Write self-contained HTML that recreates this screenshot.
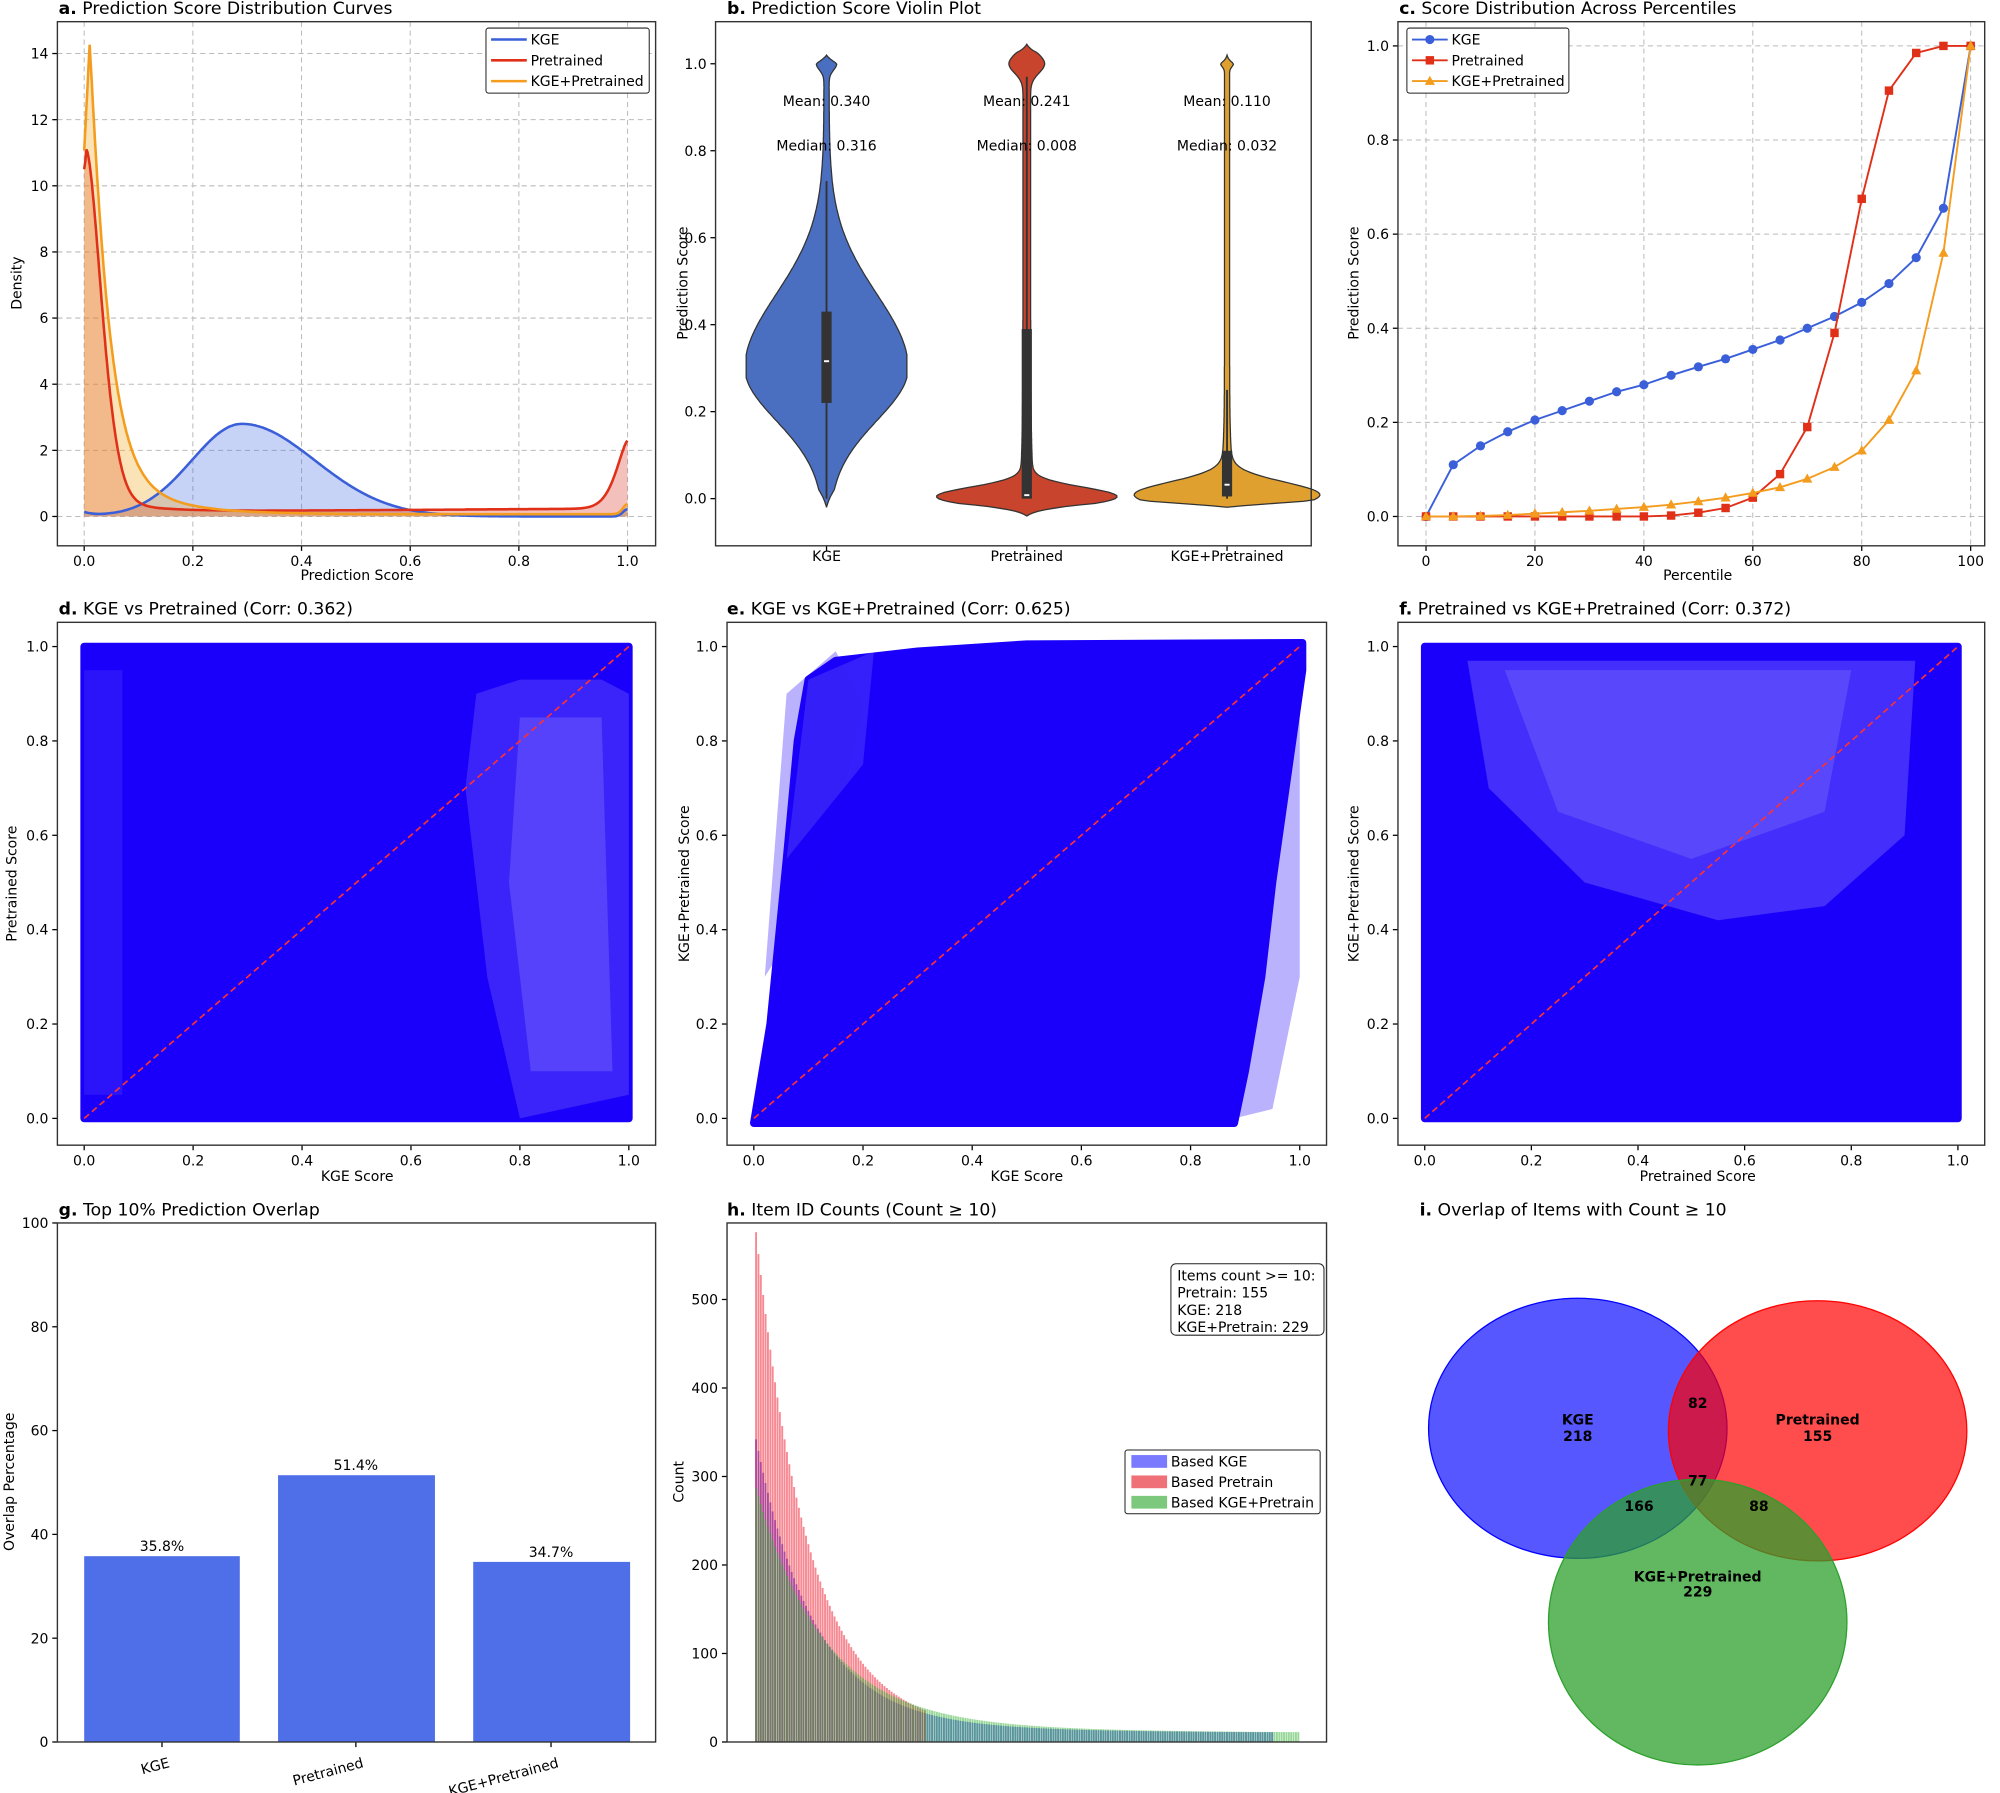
<!DOCTYPE html>
<html><head><meta charset="utf-8"><style>
html,body{margin:0;padding:0;background:#fff}
svg{display:block}
text{font-family:"DejaVu Sans","Liberation Sans",sans-serif;fill:#000}
</style></head><body>
<svg id="s" width="2000" height="1793" viewBox="0 0 1568 1406" preserveAspectRatio="none" xmlns="http://www.w3.org/2000/svg">
<rect width="1568" height="1406" fill="#fff"/>
<g font-size="13.5">
<text x="46" y="11"><tspan font-weight="bold">a.</tspan> Prediction Score Distribution Curves</text>
<text x="570" y="11"><tspan font-weight="bold">b.</tspan> Prediction Score Violin Plot</text>
<text x="1097" y="11"><tspan font-weight="bold">c.</tspan> Score Distribution Across Percentiles</text>
<text x="46" y="482"><tspan font-weight="bold">d.</tspan> KGE vs Pretrained (Corr: 0.362)</text>
<text x="570" y="482"><tspan font-weight="bold">e.</tspan> KGE vs KGE+Pretrained (Corr: 0.625)</text>
<text x="1097" y="482"><tspan font-weight="bold">f.</tspan> Pretrained vs KGE+Pretrained (Corr: 0.372)</text>
<text x="46" y="953"><tspan font-weight="bold">g.</tspan> Top 10% Prediction Overlap</text>
<text x="570" y="953"><tspan font-weight="bold">h.</tspan> Item ID Counts (Count ≥ 10)</text>
<text x="1113" y="953"><tspan font-weight="bold">i.</tspan> Overlap of Items with Count ≥ 10</text>
</g>
<g font-size="11" text-anchor="middle">
<text x="280" y="455">Prediction Score</text>
<text transform="translate(17,222) rotate(-90)">Density</text>
<text transform="translate(539,222) rotate(-90)">Prediction Score</text>
<text x="1331" y="455">Percentile</text>
<text transform="translate(1065,222) rotate(-90)">Prediction Score</text>
<text x="280" y="926">KGE Score</text>
<text transform="translate(13,693) rotate(-90)">Pretrained Score</text>
<text x="805" y="926">KGE Score</text>
<text transform="translate(540,693) rotate(-90)">KGE+Pretrained Score</text>
<text x="1331" y="926">Pretrained Score</text>
<text transform="translate(1065,693) rotate(-90)">KGE+Pretrained Score</text>
<text transform="translate(11,1162) rotate(-90)">Overlap Percentage</text>
<text transform="translate(536,1162) rotate(-90)">Count</text>
<text x="648" y="440">KGE</text><text x="805" y="440">Pretrained</text><text x="962" y="440">KGE+Pretrained</text>
</g>
<g id="dyn"></g>
<g font-size="11" font-weight="bold" text-anchor="middle" id="venn">
<ellipse cx="1237" cy="1120" rx="117" ry="102" fill="#0000ff" fill-opacity="0.66" stroke="#0000ff"/>
<ellipse cx="1425" cy="1122" rx="117" ry="102" fill="#ff0000" fill-opacity="0.7" stroke="#ff0000"/>
<ellipse cx="1331" cy="1272" rx="117" ry="112" fill="#2ca02c" fill-opacity="0.75" stroke="#2ca02c"/>
</g>
</svg>
<script>
const NS="http://www.w3.org/2000/svg",D=document.getElementById('dyn');
function el(t,a,p){const e=document.createElementNS(NS,t);for(const k in a)e.setAttribute(k,a[k]);(p||D).appendChild(e);return e}
function tx(x,y,s,a){const e=el('text',Object.assign({x:x,y:y,'font-size':11},a||{}));e.textContent=s;return e}
function frame(x1,y1,x2,y2){el('rect',{x:x1,y:y1,width:x2-x1,height:y2-y1,fill:'none',stroke:'#333','stroke-width':1.1})}
function xt(x,y,s,grid,gy){el('line',{x1:x,x2:x,y1:y,y2:y+4,stroke:'#000'});tx(x,y+16,s,{'text-anchor':'middle'});if(grid)el('line',{x1:x,x2:x,y1:gy,y2:y,stroke:'#bbb','stroke-dasharray':'4,3','stroke-width':0.8})}
function yt(x,y,s,grid,gx){el('line',{x1:x-4,x2:x,y1:y,y2:y,stroke:'#000'});tx(x-7,y+4,s,{'text-anchor':'end'});if(grid)el('line',{x1:x,x2:gx,y1:y,y2:y,stroke:'#bbb','stroke-dasharray':'4,3','stroke-width':0.8})}
const f1=v=>v.toFixed(1);
// ---------- a ----------
{const X=s=>66+s*426,Y=d=>405-d*25.93;
for(let i=0;i<=5;i++)xt(X(i*.2),428,f1(i*.2),1,17);
for(let i=0;i<=7;i++)yt(45,Y(i*2),String(i*2),1,514);
const kge=s=>{let v=2.8*Math.exp(-Math.pow((s-0.29)/(s<0.29?0.13:0.19),2));v+=0.12*Math.exp(-s/0.02);v+=0.22*Math.exp(-Math.pow((1-s)/0.012,2));return v};
const pre=s=>{let v=10.3*Math.exp(-Math.pow(Math.max(s-0.004,0)/0.04,1.7))+0.7*Math.exp(-s/0.07)+0.14+0.1*s+2.05*Math.exp(-Math.pow((1-s)/0.03,1.5));if(s<0.004)v=10.5+0.5*s/0.004;return v};
const kp=s=>{let v;if(s<0.01)v=11+3.2*(s/0.01);else v=12.2*Math.exp(-Math.pow((s-0.01)/0.035,1.1))+2*Math.exp(-(s-0.01)/0.09);v+=0.07+0.3*Math.exp(-Math.pow((1-s)/0.012,2));return v};
function curve(f,fill,op){let p=[];for(let i=0;i<=500;i++){const s=i/500;p.push(X(s).toFixed(1)+','+Y(f(s)).toFixed(1))}
el('polygon',{points:X(0)+','+Y(0)+' '+p.join(' ')+' '+X(1)+','+Y(0),fill:fill,'fill-opacity':op});return p}
const pk=curve(kge,'#4169e1',0.3),pp=curve(pre,'#d62d20',0.3),pkp=curve(kp,'#f0b030',0.35);
el('polyline',{points:pk.join(' '),fill:'none',stroke:'#3a5fd9','stroke-width':2});
el('polyline',{points:pp.join(' '),fill:'none',stroke:'#e03018','stroke-width':2});
el('polyline',{points:pkp.join(' '),fill:'none',stroke:'#f39c1e','stroke-width':2});
frame(45,17,514,428);
el('rect',{x:381,y:22,width:128,height:51,fill:'#fff',stroke:'#222','stroke-width':0.8,rx:2});
[['KGE','#3a5fd9'],['Pretrained','#e03018'],['KGE+Pretrained','#f39c1e']].forEach((c,i)=>{const y=31+i*16.3;el('line',{x1:385,x2:413,y1:y,y2:y,stroke:c[1],'stroke-width':2});tx(416,y+4,c[0])});}
// ---------- b ----------
{const Y=v=>391-v*341;
for(let i=0;i<=5;i++)yt(561,Y(i*.2),f1(i*.2));
[648,805,962].forEach(x=>el('line',{x1:x,x2:x,y1:428,y2:432,stroke:'#000'}));
function violin(cx,w,col,lo,hi){let L=[],R=[];for(let i=0;i<=300;i++){const v=lo+(hi-lo)*i/300,h=w(v);L.push((cx-h).toFixed(1)+','+Y(v).toFixed(1));R.unshift((cx+h).toFixed(1)+','+Y(v).toFixed(1))}
el('polygon',{points:L.concat(R).join(' '),fill:col,stroke:'#333','stroke-width':1})}
violin(648,v=>{let h=62*Math.exp(-Math.pow((v-0.3)/(v<0.3?0.17:0.24),2));h+=6*Math.exp(-Math.pow((v-1)/0.02,2))+2;h*=Math.min(1,Math.max(0,(v+0.02)/0.04))*Math.min(1,Math.max(0,(1.02-v)/0.02));return Math.min(h,63)},'#4a6fc0',-0.02,1.02);
violin(805,v=>{let h=65*Math.exp(-Math.pow((v-0.005)/0.03,2))+3+3*Math.exp(-v/0.1);h+=11*Math.exp(-Math.pow((v-1.0)/0.03,2));return h*Math.min(1,Math.max(0,(v+0.04)/0.03))*Math.min(1,Math.max(0,(1.045-v)/0.02))},'#c8442c',-0.04,1.045);
violin(962,v=>{let h=64*Math.exp(-Math.pow((v-0.01)/0.04,2))+2+8*Math.exp(-v/0.06);h+=3*Math.exp(-Math.pow((v-1)/0.01,2));return h*Math.min(1,Math.max(0,(v+0.02)/0.015))*Math.min(1,Math.max(0,(1.02-v)/0.02))},'#e0a030',-0.02,1.02);
[[648,0.73,0.43,0.22,0.316],[805,0.97,0.39,0,0.008],[962,0.25,0.11,0.005,0.032]].forEach(a=>{el('line',{x1:a[0],x2:a[0],y1:Y(0),y2:Y(a[1]),stroke:'#333','stroke-width':1.5});el('rect',{x:a[0]-4,y:Y(a[2]),width:8,height:Y(a[3])-Y(a[2]),fill:'#333'});el('line',{x1:a[0]-2,x2:a[0]+2,y1:Y(a[4]),y2:Y(a[4]),stroke:'#fff','stroke-width':1.5})});
[[648,'0.340','0.316'],[805,'0.241','0.008'],[962,'0.110','0.032']].forEach(a=>{tx(a[0],83,'Mean: '+a[1],{'text-anchor':'middle'});tx(a[0],118,'Median: '+a[2],{'text-anchor':'middle'})});
frame(561,17,1028,428);}
// ---------- c ----------
{const X=p=>1118+p*4.27,Y=v=>405-v*369;
for(let i=0;i<=5;i++)xt(X(i*20),428,String(i*20),1,17);
for(let i=0;i<=5;i++)yt(1096,Y(i*.2),f1(i*.2),1,1556);
const K=[0,0.11,0.15,0.18,0.205,0.225,0.245,0.265,0.28,0.30,0.318,0.335,0.355,0.375,0.40,0.425,0.455,0.495,0.55,0.655,1.0],
P=[0,0,0,0,0,0,0,0,0,0.002,0.008,0.018,0.04,0.09,0.19,0.39,0.675,0.905,0.985,1,1],
Q=[0,0,0.001,0.003,0.006,0.009,0.012,0.016,0.02,0.025,0.032,0.04,0.05,0.062,0.08,0.105,0.14,0.205,0.31,0.56,1.0];
function ser(a,col,m){el('polyline',{points:a.map((v,i)=>X(i*5)+','+Y(v)).join(' '),fill:'none',stroke:col,'stroke-width':1.5});a.forEach((v,i)=>mk(X(i*5),Y(v),col,m))}
function mk(x,y,col,m){if(m==0)el('circle',{cx:x,cy:y,r:3.6,fill:col});else if(m==1)el('rect',{x:x-3.3,y:y-3.3,width:6.6,height:6.6,fill:col});else el('polygon',{points:`${x},${y-4.2} ${x-4},${y+3} ${x+4},${y+3}`,fill:col})}
ser(K,'#3a5fd9',0);ser(P,'#e03018',1);ser(Q,'#f39c1e',2);
frame(1096,17,1556,428);
el('rect',{x:1103,y:22,width:127,height:51,fill:'#fff',stroke:'#222','stroke-width':0.8,rx:2});
[['KGE','#3a5fd9',0],['Pretrained','#e03018',1],['KGE+Pretrained','#f39c1e',2]].forEach((c,i)=>{const y=31+i*16.3;el('line',{x1:1107,x2:1135,y1:y,y2:y,stroke:c[1],'stroke-width':1.5});mk(1121,y,c[1],c[2]);tx(1138,y+4,c[0])});}
// ---------- scatters ----------
const BL='#1a00fa';
function scat(x1,x2,type){const X=s=>x1+21+s*(x2-x1-42),Y=v=>877-v*370;
for(let i=0;i<=5;i++)xt(X(i*.2),898,f1(i*.2));
for(let i=0;i<=5;i++)yt(x1,Y(i*.2),f1(i*.2));
if(type=='d'){el('rect',{x:X(0)-3,y:Y(1)-3,width:X(1)-X(0)+6,height:Y(0)-Y(1)+6,fill:BL,rx:3});
el('polygon',{points:[[0.72,0.9],[0.8,0.93],[0.95,0.93],[1,0.9],[1,0.05],[0.8,0.0],[0.74,0.3],[0.7,0.7]].map(p=>X(p[0])+','+Y(p[1])).join(' '),fill:'#fff',opacity:0.14});
el('polygon',{points:[[0.8,0.85],[0.95,0.85],[0.97,0.1],[0.82,0.1],[0.78,0.5]].map(p=>X(p[0])+','+Y(p[1])).join(' '),fill:'#fff',opacity:0.14});
el('rect',{x:X(0),y:Y(0.95),width:X(0.07)-X(0),height:Y(0.05)-Y(0.95),fill:'#fff',opacity:0.08});}
if(type=='e'){el('polygon',{points:[[0,-0.01],[0.03,0.2],[0.06,0.55],[0.08,0.8],[0.1,0.93],[0.15,0.97],[0.3,0.99],[0.5,1.005],[1.005,1.008],[1.005,0.95],[0.95,0.5],[0.93,0.3],[0.9,0.1],[0.88,-0.01]].map(p=>X(p[0])+','+Y(p[1])).join(' '),fill:BL,stroke:BL,'stroke-width':6,'stroke-linejoin':'round'});
el('polygon',{points:[[0.02,0.3],[0.06,0.9],[0.15,0.99],[0.2,0.88],[0.13,0.5]].map(p=>X(p[0])+','+Y(p[1])).join(' '),fill:BL,opacity:0.3});
el('polygon',{points:[[0.88,0],[0.95,0.02],[1,0.3],[1,0.95],[0.95,0.5]].map(p=>X(p[0])+','+Y(p[1])).join(' '),fill:BL,opacity:0.3});
el('polygon',{points:[[0.06,0.55],[0.1,0.93],[0.22,0.99],[0.2,0.75]].map(p=>X(p[0])+','+Y(p[1])).join(' '),fill:'#fff',opacity:0.12});}
if(type=='f'){el('rect',{x:X(0)-3,y:Y(1)-3,width:X(1)-X(0)+6,height:Y(0)-Y(1)+6,fill:BL,rx:3});
el('polygon',{points:[[0.08,0.97],[0.92,0.97],[0.9,0.6],[0.75,0.45],[0.55,0.42],[0.3,0.5],[0.12,0.7]].map(p=>X(p[0])+','+Y(p[1])).join(' '),fill:'#fff',opacity:0.18});
el('polygon',{points:[[0.15,0.95],[0.8,0.95],[0.75,0.65],[0.5,0.55],[0.25,0.65]].map(p=>X(p[0])+','+Y(p[1])).join(' '),fill:'#fff',opacity:0.12});}
el('line',{x1:X(0),y1:Y(0),x2:X(1),y2:Y(1),stroke:'#ff3030','stroke-width':1.3,'stroke-dasharray':'5,3'});
frame(x1,488,x2,898);}
scat(45,514,'d');scat(570,1040,'e');scat(1096,1556,'f');
// ---------- g ----------
{const Y=v=>1366-v*4.07;
for(let i=0;i<=5;i++)yt(45,Y(i*20),String(i*20));
[[66,35.8,'KGE',126],[218,51.4,'Pretrained',127],[371,34.7,'KGE+Pretrained',127]].forEach(b=>{el('rect',{x:b[0],y:Y(b[1]),width:b[3]-4,height:Y(0)-Y(b[1]),fill:'#4f6fe8'});tx(b[0]+61,Y(b[1])-4,b[1].toFixed(1)+'%',{'text-anchor':'middle'});
const cx=b[0]+61;el('line',{x1:cx,x2:cx,y1:1366,y2:1370,stroke:'#000'});tx(cx+4,1376,b[2],{'text-anchor':'end',transform:`rotate(-15 ${cx+4} 1376)`,dy:'0.9em'})});
frame(45,959,514,1366);}
// ---------- h ----------
{const Y=v=>1366-v*0.694;
for(let i=0;i<=5;i++)yt(570,Y(i*100),String(i*100));
const W=(1019-592)/229;
function bars(n,f,col,op){for(let i=0;i<n;i++){const c=f(i);el('rect',{x:592+i*W,y:Y(c),width:W*0.8,height:Y(0)-Y(c),fill:col,'fill-opacity':op})}}
bars(218,i=>10+317*Math.exp(-i/24)+15*Math.exp(-i/80),'#0000ff',0.5);
bars(72,i=>8+548*Math.exp(-i/22)+20*Math.exp(-i/60),'#f01428',0.5);
bars(229,i=>10+259*Math.exp(-i/28)+18*Math.exp(-i/80),'#30b030',0.5);
frame(570,959,1040,1366);
el('rect',{x:918,y:991,width:120,height:56,fill:'#fff',stroke:'#222','stroke-width':0.8,rx:4});
['Items count >= 10:','Pretrain: 155','KGE: 218','KGE+Pretrain: 229'].forEach((s,i)=>tx(923,1004+i*13.5,s));
el('rect',{x:882,y:1137,width:153,height:50,fill:'#fff',stroke:'#222','stroke-width':0.8,rx:2});
[['Based KGE','#7a7aff'],['Based Pretrain','#f07078'],['Based KGE+Pretrain','#7cc87c']].forEach((c,i)=>{const y=1146+i*16;el('rect',{x:887,y:y-5,width:28,height:10,fill:c[1]});tx(918,y+4,c[0])});}
// ---------- venn labels ----------
{const V=document.getElementById('venn');
[[1237,1117,'KGE'],[1237,1130,'218'],[1425,1117,'Pretrained'],[1425,1130,'155'],[1331,1104,'82'],[1331,1165,'77'],[1285,1185,'166'],[1379,1185,'88'],[1331,1240,'KGE+Pretrained'],[1331,1252,'229']].forEach(a=>{const e=el('text',{x:a[0],y:a[1]},V);e.textContent=a[2]})}
</script>
</body></html>
